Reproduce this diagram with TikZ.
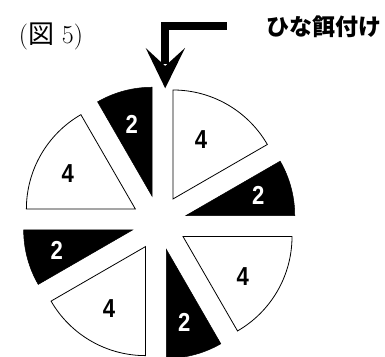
\documentclass[tikz,border=0pt]{standalone}
\usepackage{fontspec}
\newfontfamily\cjkfont{Noto Sans CJK JP}
\newfontfamily\numfont{Liberation Sans}
\usetikzlibrary{calc}
\begin{document}
\begin{tikzpicture}[x=1pt,y=1pt,
  wsec/.style={draw=black,line width=0.8pt,fill=white,line join=miter},
  bsec/.style={fill=black,draw=black,line width=0.5pt},
  numw/.style={inner sep=0pt,text=black,font=\numfont\bfseries\fontsize{26}{26}\selectfont},
  numb/.style={inner sep=0pt,text=white,font=\numfont\bfseries\fontsize{26}{26}\selectfont},
  arrowbar/.style={line width=8pt,line join=miter,line cap=butt}]
\useasboundingbox (0,0) rectangle (385,356);
\clip (0,0) rectangle (385,356);
\coordinate (c) at (159.2,133.2);
\def\dd{27.5}
\def\rr{109}
% white sectors (4)
\draw[wsec] ($(c)+(60:\dd)$) -- ++(30:\rr) arc[start angle=30,end angle=90,radius=\rr] -- cycle;
\draw[wsec] ($(c)+(-30:\dd)$) -- ++(-60:\rr) arc[start angle=-60,end angle=0,radius=\rr] -- cycle;
\draw[wsec] ($(c)+(-120:\dd)$) -- ++(-150:\rr) arc[start angle=-150,end angle=-90,radius=\rr] -- cycle;
\draw[wsec] ($(c)+(150:\dd)$) -- ++(120:\rr) arc[start angle=120,end angle=180,radius=\rr] -- cycle;
% black sectors (2)
\filldraw[bsec] ($(c)+(15:\dd)$) -- ++(0:\rr) arc[start angle=0,end angle=30,radius=\rr] -- cycle;
\filldraw[bsec] ($(c)+(-75:\dd)$) -- ++(-90:\rr) arc[start angle=-90,end angle=-60,radius=\rr] -- cycle;
\filldraw[bsec] ($(c)+(195:\dd)$) -- ++(180:\rr) arc[start angle=180,end angle=210,radius=\rr] -- cycle;
\filldraw[bsec] ($(c)+(105:\dd)$) -- ++(90:\rr) arc[start angle=90,end angle=120,radius=\rr] -- cycle;
% labels
\node[numw] (n1) at (201,216.7) {\scalebox{0.85}[1]{4}};
\node[numb] (n2) at (258.3,161) {\scalebox{0.85}[1]{2}};
\node[numw] (n3) at (242.7,79.3) {\scalebox{0.85}[1]{4}};
\node[numb] (n4) at (184.3,33.3) {\scalebox{0.85}[1]{2}};
\node[numw] (n5) at (109,47.7) {\scalebox{0.85}[1]{4}};
\node[numb] (n6) at (56.7,105.3) {\scalebox{0.85}[1]{2}};
\node[numw] (n7) at (67.7,182.7) {\scalebox{0.85}[1]{4}};
\node[numb] (n8) at (131.7,232) {\scalebox{0.85}[1]{2}};
% title
\node[inner sep=0pt,font=\fontsize{26}{26}\selectfont] (title) at (51,320) {(\cjkfont 図\normalfont\ 5)};
\node[inner sep=0pt,font=\cjkfont\bfseries\fontsize{23}{23}\selectfont] (hina) at (324,329.3) {ひな餌付け};
% arrow
\coordinate (a0) at (226.7,330);
\coordinate (a1) at (165.2,330);
\coordinate (a2) at (165.2,292);
\draw[arrowbar] (a0) -- (a1) -- (a2);
\fill (145.7,308) -- (165.2,290) -- (185,308) -- (165.2,267.7) -- cycle;
\end{tikzpicture}
\end{document}
